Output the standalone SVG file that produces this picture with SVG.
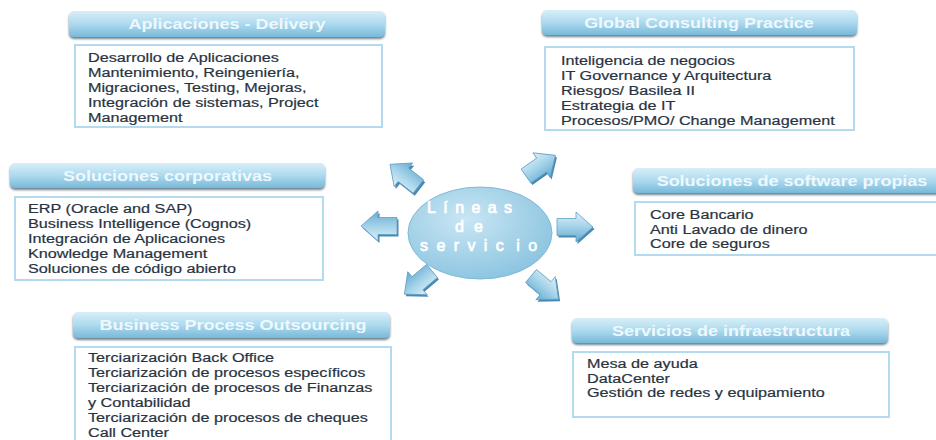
<svg xmlns="http://www.w3.org/2000/svg" width="936" height="440" viewBox="0 0 936 440">
<defs>
<linearGradient id="hdrg" x1="0" y1="0" x2="0" y2="1">
<stop offset="0" stop-color="#d8eef9"/>
<stop offset="0.5" stop-color="#addaee"/>
<stop offset="1" stop-color="#78b9da"/>
</linearGradient>
<radialGradient id="ellg" cx="0.4" cy="0.35" r="0.75">
<stop offset="0" stop-color="#c9e6f4"/>
<stop offset="1" stop-color="#86c1de"/>
</radialGradient>
<linearGradient id="arrg" x1="0" y1="0" x2="0" y2="1">
<stop offset="0" stop-color="#dff0f9"/>
<stop offset="0.5" stop-color="#a3d2e9"/>
<stop offset="1" stop-color="#65aad0"/>
</linearGradient>
<filter id="sh" x="-5%" y="-30%" width="110%" height="180%">
<feDropShadow dx="0" dy="2" stdDeviation="1.3" flood-color="#2d4b5e" flood-opacity="0.7"/>
</filter>
<path id="arr" d="M0,-8.5 H19 V-15 L36,0 L19,15 V8.5 H0 Z"/>
</defs>
<style>
.hdr{fill:url(#hdrg);filter:url(#sh)}
.box{fill:#fff;stroke:#b3daee;stroke-width:2}
.ht{font-family:"Liberation Sans",Arial,sans-serif;font-weight:bold;font-size:15px;fill:#eef8fd;text-anchor:middle}
.bt{font-family:"Liberation Sans",Arial,sans-serif;font-size:13.5px;fill:#28333f;stroke:#28333f;stroke-width:0.2}
.ct{font-family:"Liberation Sans",Arial,sans-serif;font-size:16px;fill:#fff;stroke:#fff;stroke-width:0.7}
.ab{fill:#4a89b0}
.af{fill:url(#arrg);stroke:#5f9fc5;stroke-width:0.8}
</style>
<rect width="936" height="440" fill="#fff"/>

<g id="aplicaciones-delivery">
<rect class="hdr" x="69" y="11" width="316" height="26" rx="5"/>
<text class="ht" transform="translate(227,29) scale(1.2,1)">Aplicaciones - Delivery</text>
<rect class="box" x="75" y="45" width="307" height="82"/>
<text class="bt" transform="translate(88,0) scale(1.2,1)"><tspan x="0" y="62">Desarrollo de Aplicaciones</tspan><tspan x="0" y="77">Mantenimiento, Reingeniería,</tspan><tspan x="0" y="92">Migraciones, Testing, Mejoras,</tspan><tspan x="0" y="107">Integración de sistemas, Project</tspan><tspan x="0" y="122">Management</tspan></text>
</g>

<g id="global-consulting">
<rect class="hdr" x="542" y="10" width="315" height="25" rx="5"/>
<text class="ht" transform="translate(699,28) scale(1.2,1)">Global Consulting Practice</text>
<rect class="box" x="545" y="47" width="309" height="83"/>
<text class="bt" transform="translate(561,0) scale(1.2,1)"><tspan x="0" y="65">Inteligencia de negocios</tspan><tspan x="0" y="80">IT Governance y Arquitectura</tspan><tspan x="0" y="95">Riesgos/ Basilea II</tspan><tspan x="0" y="110">Estrategia de IT</tspan><tspan x="0" y="125">Procesos/PMO/ Change Management</tspan></text>
</g>

<g id="soluciones-corporativas">
<rect class="hdr" x="10" y="163" width="315" height="25" rx="5"/>
<text class="ht" transform="translate(167.5,181) scale(1.2,1)">Soluciones corporativas</text>
<rect class="box" x="15" y="197" width="308" height="83"/>
<text class="bt" transform="translate(28,0) scale(1.2,1)"><tspan x="0" y="213">ERP (Oracle and SAP)</tspan><tspan x="0" y="228">Business Intelligence (Cognos)</tspan><tspan x="0" y="243">Integración de Aplicaciones</tspan><tspan x="0" y="258">Knowledge Management</tspan><tspan x="0" y="273">Soluciones de código abierto</tspan></text>
</g>

<g id="soluciones-software">
<rect class="hdr" x="633" y="168" width="318" height="25" rx="5"/>
<text class="ht" transform="translate(792,186) scale(1.2,1)">Soluciones de software propias</text>
<rect class="box" x="635" y="202" width="312" height="53"/>
<text class="bt" transform="translate(650,0) scale(1.2,1)"><tspan x="0" y="219">Core Bancario</tspan><tspan x="0" y="234">Anti Lavado de dinero</tspan><tspan x="0" y="248">Core de seguros</tspan></text>
</g>

<g id="bpo">
<rect class="hdr" x="73" y="312" width="317" height="26" rx="5"/>
<text class="ht" transform="translate(233,330) scale(1.2,1)">Business Process Outsourcing</text>
<rect class="box" x="75" y="347" width="316" height="100"/>
<text class="bt" transform="translate(88,0) scale(1.2,1)"><tspan x="0" y="362">Terciarización Back Office</tspan><tspan x="0" y="377">Terciarización de procesos específicos</tspan><tspan x="0" y="392">Terciarización de procesos de Finanzas</tspan><tspan x="0" y="407">y Contabilidad</tspan><tspan x="0" y="422">Terciarización de procesos de cheques</tspan><tspan x="0" y="437">Call Center</tspan></text>
</g>

<g id="infraestructura">
<rect class="hdr" x="572" y="318" width="316" height="25" rx="5"/>
<text class="ht" transform="translate(731,336) scale(1.2,1)">Servicios de infraestructura</text>
<rect class="box" x="573" y="352" width="316" height="65"/>
<text class="bt" transform="translate(587,0) scale(1.2,1)"><tspan x="0" y="368">Mesa de ayuda</tspan><tspan x="0" y="383">DataCenter</tspan><tspan x="0" y="397">Gestión de redes y equipamiento</tspan></text>
</g>

<g id="connectors">
<use href="#arr" class="ab" transform="translate(420,189) rotate(218)"/>
<use href="#arr" class="af" transform="translate(418.4,186.5) rotate(218)"/>
<use href="#arr" class="ab" transform="translate(527.5,178) rotate(-35)"/>
<use href="#arr" class="af" transform="translate(526,176) rotate(-35)"/>
<use href="#arr" class="ab" transform="translate(398.5,228) rotate(180)"/>
<use href="#arr" class="af" transform="translate(397,226) rotate(180)"/>
<use href="#arr" class="ab" transform="translate(558.5,229)"/>
<use href="#arr" class="af" transform="translate(557,227)"/>
<use href="#arr" class="ab" transform="translate(433.5,273) rotate(140)"/>
<use href="#arr" class="af" transform="translate(432,271) rotate(140)"/>
<use href="#arr" class="ab" transform="translate(532.5,278) rotate(40)"/>
<use href="#arr" class="af" transform="translate(531,276) rotate(40)"/>
</g>

<g id="lineas-de-servicio">
<ellipse cx="480" cy="233" rx="72" ry="46" fill="url(#ellg)" stroke="#80bad8" stroke-width="1"/>
<text class="ct" x="427" y="213" letter-spacing="7.4">Líneas</text>
<text class="ct" x="455" y="232" letter-spacing="10">de</text>
<text class="ct" x="420" y="251" letter-spacing="8.4">servic<tspan dx="4">io</tspan></text>
</g>
</svg>
